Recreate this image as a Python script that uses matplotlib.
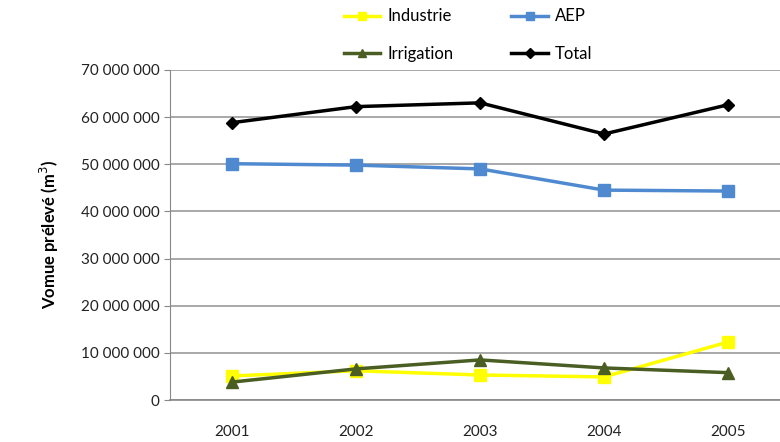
import matplotlib.pyplot as plt
from matplotlib.ticker import FuncFormatter

annees = ['2001', '2002', '2003', '2004', '2005']
industrie = [5.1e6, 6.2e6, 5.3e6, 4.9e6, 12.3e6]
aep = [50.1e6, 49.8e6, 49.0e6, 44.5e6, 44.3e6]
irrigation = [3.8e6, 6.6e6, 8.5e6, 6.8e6, 5.8e6]
total = [58.8e6, 62.2e6, 63.0e6, 56.4e6, 62.6e6]

plt.rcParams['font.family'] = ['Lato', 'DejaVu Sans']

fig = plt.figure(figsize=(7.8, 4.42), dpi=100)
ax = fig.add_axes([0.218, 0.095, 0.795, 0.747])

x = range(len(annees))
l_ind, = ax.plot(x, industrie, color='#FFFF00', lw=2.5, marker='s', ms=8, label='Industrie', zorder=3)
l_aep, = ax.plot(x, aep, color='#4F8AD0', lw=2.5, marker='s', ms=8, label='AEP', zorder=3)
l_irr, = ax.plot(x, irrigation, color='#4A5E23', lw=2.5, marker='^', ms=8, label='Irrigation', zorder=4)
l_tot, = ax.plot(x, total, color='black', lw=2.5, marker='D', ms=6, label='Total', zorder=3)

ax.set_xlim(-0.5, 4.5)
ax.set_ylim(0, 70e6)
ax.set_yticks([i * 10e6 for i in range(8)])
ax.yaxis.set_major_formatter(FuncFormatter(lambda v, p: '{:,.0f}'.format(v).replace(',', ' ')))
ax.set_xticks(list(x))
ax.set_xticklabels(annees)
ax.tick_params(axis='x', length=0, pad=18, labelsize=11, colors='#222222')
ax.tick_params(axis='y', length=4, color='#888888', labelsize=11, colors='#222222')

ax.grid(axis='y', color='#999999', lw=1.2)
ax.set_axisbelow(True)
for s in ['top', 'right']:
    ax.spines[s].set_visible(False)
ax.spines['left'].set_color('#888888')
ax.spines['bottom'].set_color('#888888')
ax.spines['bottom'].set_linewidth(1.2)

ax.set_ylabel('Vomue prélevé (m$^3$)', fontsize=12, fontweight='bold', labelpad=14)

fig.legend(handles=[l_ind, l_irr, l_aep, l_tot], ncol=2, loc='upper center',
           bbox_to_anchor=(0.6, 1.015), frameon=False, fontsize=12,
           handlelength=2.2, handletextpad=0.4, columnspacing=3.5,
           labelspacing=1.3, markerscale=0.8)

fig.savefig('out.png', dpi=100)
